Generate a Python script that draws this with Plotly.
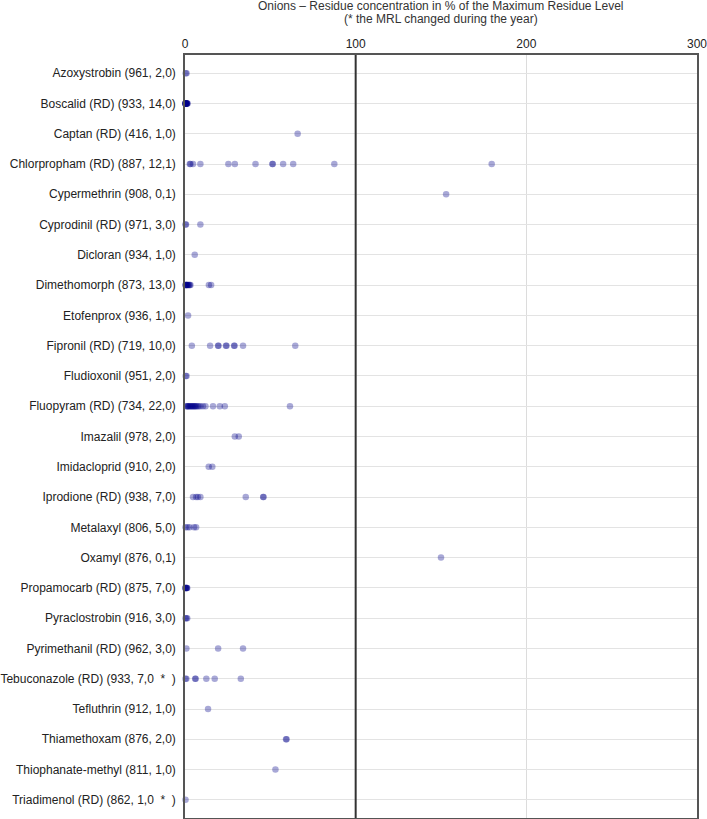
import plotly.graph_objects as go

# pesticide labels (samples analysed, detections below MRL, above MRL)
labels = [
    "Azoxystrobin (961, 2,0)",
    "Boscalid (RD) (933, 14,0)",
    "Captan (RD) (416, 1,0)",
    "Chlorpropham (RD) (887, 12,1)",
    "Cypermethrin (908, 0,1)",
    "Cyprodinil (RD) (971, 3,0)",
    "Dicloran (934, 1,0)",
    "Dimethomorph (873, 13,0)",
    "Etofenprox (936, 1,0)",
    "Fipronil (RD) (719, 10,0)",
    "Fludioxonil (951, 2,0)",
    "Fluopyram (RD) (734, 22,0)",
    "Imazalil (978, 2,0)",
    "Imidacloprid (910, 2,0)",
    "Iprodione (RD) (938, 7,0)",
    "Metalaxyl (806, 5,0)",
    "Oxamyl (876, 0,1)",
    "Propamocarb (RD) (875, 7,0)",
    "Pyraclostrobin (916, 3,0)",
    "Pyrimethanil (RD) (962, 3,0)",
    "Tebuconazole (RD) (933, 7,0  *  )",
    "Tefluthrin (912, 1,0)",
    "Thiamethoxam (876, 2,0)",
    "Thiophanate-methyl (811, 1,0)",
    "Triadimenol (RD) (862, 1,0  *  )",
]

# residue in % of MRL, one list per pesticide
azoxystrobin = [0.4, 0.9]
boscalid = [0.1, 0.2, 0.3, 0.3, 0.4, 0.5, 0.6, 0.7, 0.8, 0.9, 1.0, 1.1, 1.3, 1.5]
captan = [66]
chlorpropham = [2.8, 3.2, 4.7, 9, 25.4, 29.2, 41.3, 51.3, 51.3, 57.5, 63.4, 87.5, 179.7]
cypermethrin = [153]
cyprodinil = [0.3, 0.6, 9]
dicloran = [5.7]
dimethomorph = [0.2, 0.5, 0.8, 1.0, 1.3, 1.6, 2.0, 2.4, 2.8, 3.2, 0.6, 14, 15.3]
etofenprox = [1.8]
fipronil = [4, 14.7, 19.4, 19.6, 24, 24.3, 28.8, 29, 34, 64.6]
fludioxonil = [0.4, 0.9]
fluopyram = [0.8, 1.2, 1.6, 2.0, 2.5, 3.0, 3.5, 4.0, 4.5, 5.0, 5.5, 6.0, 6.5,
             7.2, 8.0, 9.0, 10.5, 12.0, 16.4, 20.4, 23.3, 61.5]
imazalil = [29.2, 31.5]
imidacloprid = [13.9, 16]
iprodione = [4.7, 6.5, 7.5, 9, 35.6, 45.8, 46]
metalaxyl = [0.3, 1.5, 2.7, 5.3, 6.5]
oxamyl = [150]
propamocarb = [0.1, 0.3, 0.5, 0.7, 0.9, 1.1, 1.3]
pyraclostrobin = [0.3, 0.8, 1.3]
pyrimethanil = [0.8, 19.4, 34]
tebuconazole = [0.3, 0.8, 6, 6.2, 12.5, 17.4, 32.7]
tefluthrin = [13.5]
thiamethoxam = [59.2, 59.5]
thiophanate_methyl = [53]
triadimenol = [0.3]

values = [azoxystrobin, boscalid, captan, chlorpropham, cypermethrin, cyprodinil,
          dicloran, dimethomorph, etofenprox, fipronil, fludioxonil, fluopyram,
          imazalil, imidacloprid, iprodione, metalaxyl, oxamyl, propamocarb,
          pyraclostrobin, pyrimethanil, tebuconazole, tefluthrin, thiamethoxam,
          thiophanate_methyl, triadimenol]

MRL = 100
x_ticks = [0, 100, 200, 300]
title_lines = ["Onions \u2013 Residue concentration in % of the Maximum Residue Level",
               "(* the MRL changed during the year)"]

xs, ys = [], []
for lab, vals in zip(labels, values):
    xs += vals
    ys += [lab] * len(vals)

fig = go.Figure(go.Scatter(
    x=xs, y=ys, mode="markers", cliponaxis=False,
    marker=dict(size=6.5, color="rgb(0,0,139)", opacity=0.34, line=dict(width=0)),
))

fig.add_vline(x=MRL, line_color="#333333", line_width=2)

# two-line title, each line its own annotation for tight spacing
for i, line in enumerate(title_lines):
    fig.add_annotation(
        text=line, xref="paper", yref="paper", x=0.5, y=1,
        xanchor="center", yanchor="top", yshift=57 - 13 * i, borderpad=0,
        showarrow=False, font=dict(size=12, color="#333333"),
    )

font = "Tahoma, 'Liberation Sans', 'DejaVu Sans', sans-serif"
fig.update_layout(
    width=707, height=819,
    margin=dict(l=185, r=10, t=55, b=1),
    plot_bgcolor="white", paper_bgcolor="white",
    font=dict(family=font, size=12, color="#222222"),
    showlegend=False,
    xaxis=dict(
        range=[0, 300], side="top", tickvals=x_ticks, ticks="",
        ticklabelstandoff=0, ticklabeloverflow="allow", automargin=False,
        showgrid=True, gridcolor="#dcdcdc", gridwidth=1, zeroline=False,
        showline=True, mirror=True, linecolor="#555555", linewidth=1.5,
    ),
    yaxis=dict(
        type="category", categoryorder="array", categoryarray=labels,
        range=[len(labels) - 0.4, -0.6], ticks="", ticklabelstandoff=5,
        automargin=False, ticklabeloverflow="allow",
        showgrid=True, gridcolor="#e3e3e3", gridwidth=1, zeroline=False,
        showline=True, mirror=True, linecolor="#555555", linewidth=1.5,
    ),
)

# drop the default 8px body margin so the figure fills the window
fig.write_html("out.html", config={"displayModeBar": False},
               post_script="document.body.style.margin='0px';")
